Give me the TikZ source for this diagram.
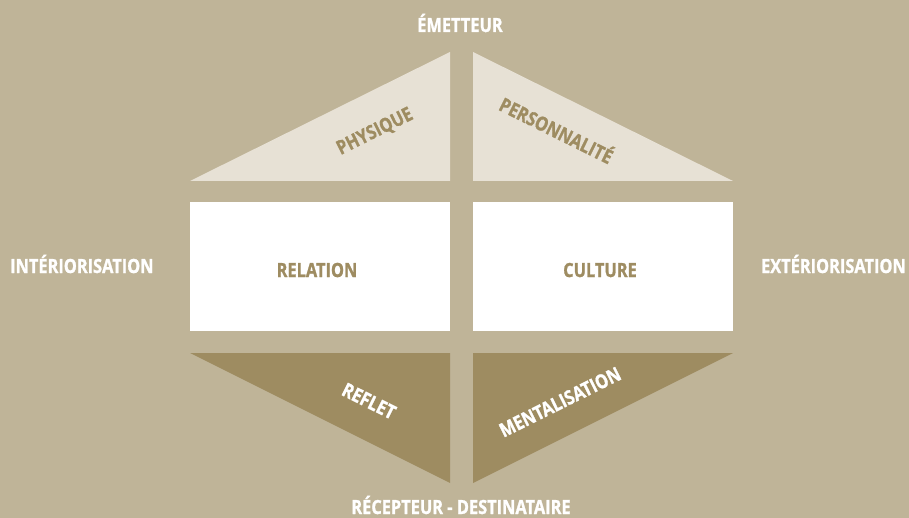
\documentclass[tikz,border=0pt]{standalone}
\usepackage{fontspec}
\setmainfont{Open Sans}[FakeStretch=0.84, BoldFeatures={FakeBold=1.2}]
\definecolor{bgtan}{HTML}{BFB498}
\definecolor{paletan}{HTML}{E7E1D5}
\definecolor{darktan}{HTML}{9E8C61}
\begin{document}
\begin{tikzpicture}[x=1pt,y=-1pt,
  lbl/.style={font=\bfseries\fontsize{19.5}{22}\selectfont, inner sep=0pt},
  axislbl/.style={lbl, text=white},
  inlbl/.style={lbl, text=darktan},
  outlbl/.style={lbl, text=white}]
  % canvas
  \fill[bgtan] (0,0) rectangle (909,518);
  \useasboundingbox (0,0) rectangle (909,518);
  % upper triangles
  \fill[paletan] (190,181) -- (450,52) -- (450,181) -- cycle;
  \fill[paletan] (473,52) -- (733,181) -- (473,181) -- cycle;
  % central panels
  \fill[white] (190,202) rectangle (450,331);
  \fill[white] (473,202) rectangle (733,331);
  % lower triangles
  \fill[darktan] (190,353) -- (450,353) -- (450,483) -- cycle;
  \fill[darktan] (473,353) -- (733,353) -- (473,483) -- cycle;
  % axis labels
  \node[axislbl, anchor=base] (emet) at (460,32) {ÉMETTEUR};
  \node[axislbl, anchor=base] (recep) at (461,514) {RÉCEPTEUR - DESTINATAIRE};
  \node[axislbl, anchor=base west] (inter) at (10,273) {INTÉRIORISATION};
  \node[axislbl, anchor=base east] (exter) at (906,273) {EXTÉRIORISATION};
  % panel labels
  \node[inlbl] (phys) at (375,132) [rotate=26.4] {PHYSIQUE};
  \node[inlbl] (pers) at (557,129) [rotate=-26.4] {PERSONNALITÉ};
  \node[inlbl, anchor=base] (rel) at (317,277) {RELATION};
  \node[inlbl, anchor=base] (cult) at (600,277) {CULTURE};
  \node[outlbl] (refl) at (369,401) [rotate=-26.4] {REFLET};
  \node[outlbl] (ment) at (560,402) [rotate=26.4] {MENTALISATION};
\end{tikzpicture}
\end{document}
